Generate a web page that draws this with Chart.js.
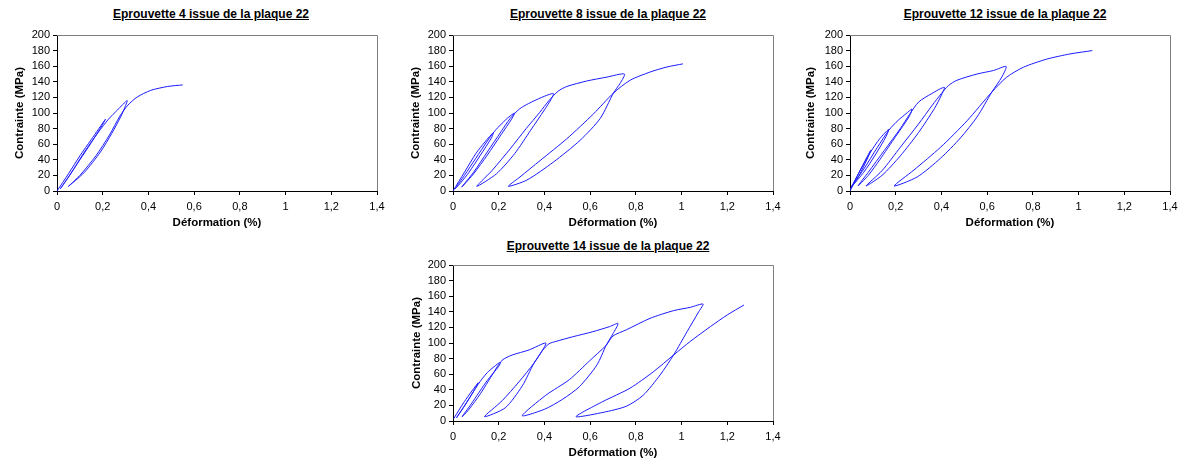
<!DOCTYPE html>
<html>
<head>
<meta charset="utf-8">
<script src="https://cdn.jsdelivr.net/npm/chart.js@4"></script>
<style>
  body { margin: 0; background: #fff; width: 1183px; height: 463px; position: relative; overflow: hidden; }
  canvas { position: absolute; }
  .title { position: absolute; font: bold 12px "Liberation Sans", Arial, sans-serif; text-decoration: underline; color: #000; white-space: nowrap; transform: translateX(-50%); }
</style>
</head>
<body>
<div class="title" style="left:211px; top:7px">Eprouvette 4 issue de la plaque 22</div>
<div class="title" style="left:608px; top:7px">Eprouvette 8 issue de la plaque 22</div>
<div class="title" style="left:1005px; top:7px">Eprouvette 12 issue de la plaque 22</div>
<div class="title" style="left:608px; top:239px">Eprouvette 14 issue de la plaque 22</div>

<canvas id="c4" width="395" height="210" style="left:0px; top:25px"></canvas>
<canvas id="c8" width="395" height="210" style="left:395px; top:25px"></canvas>
<canvas id="c12" width="393" height="210" style="left:790px; top:25px"></canvas>
<canvas id="c14" width="395" height="208" style="left:395px; top:255px"></canvas>

<script>
// tick labels (French decimal comma)
const xTickLabels = ['0', '0,2', '0,4', '0,6', '0,8', '1', '1,2', '1,4'];
const yTickLabels = ['0', '20', '40', '60', '80', '100', '120', '140', '160', '180', '200'];

// Eprouvette 4 : strain (%) / stress (MPa)
const strain4 = [0, 0.05, 0.1, 0.15, 0.212,
    0.197, 0.15, 0.1, 0.05, 0.015,
    0.06, 0.12, 0.18, 0.225, 0.265, 0.307,
    0.298, 0.28, 0.24, 0.19, 0.12, 0.05,
    0.1, 0.17, 0.23, 0.275, 0.31, 0.351, 0.41, 0.484, 0.55];
const stress4 = [0, 22, 45, 66, 92,
    84, 62, 40, 18, 3,
    22, 50, 75, 92, 104, 116,
    108, 96, 74, 50, 24, 6,
    20, 45, 72, 96, 110, 120.5, 129, 134, 136];

// Eprouvette 8
const strain8 = [0, 0.05, 0.1, 0.14, 0.177,
    0.168, 0.12, 0.07, 0.035, 0.01,
    0.05, 0.1, 0.15, 0.18, 0.215, 0.245, 0.269,
    0.258, 0.21, 0.15, 0.09, 0.038,
    0.09, 0.15, 0.21, 0.25, 0.29, 0.33, 0.388, 0.439,
    0.428, 0.4, 0.34, 0.27, 0.19, 0.104,
    0.17, 0.25, 0.32, 0.38, 0.42, 0.46, 0.498, 0.585, 0.673, 0.75,
    0.731, 0.702, 0.644, 0.556, 0.439, 0.323, 0.242,
    0.293, 0.381, 0.498, 0.615, 0.702, 0.775, 0.863, 0.936, 1.006];
const stress8 = [0, 24, 48, 63, 75,
    68, 46, 24, 11, 3,
    20, 42, 64, 76, 87, 95, 100,
    93, 72, 46, 22, 5,
    24, 50, 76, 93, 105, 112, 120, 125,
    117, 104, 78, 48, 22, 6,
    26, 54, 80, 101, 116, 128, 134, 141, 146, 150,
    138, 125.6, 93, 65, 37, 14, 6,
    18, 39, 67, 99, 125.6, 142, 152.6, 159, 163];

// Eprouvette 12
const strain12 = [0, 0.04, 0.09,
    0.08, 0.04, 0.003,
    0.04, 0.09, 0.13, 0.169,
    0.158, 0.11, 0.06, 0.005,
    0.06, 0.12, 0.17, 0.212, 0.245, 0.271,
    0.26, 0.2, 0.13, 0.08, 0.035,
    0.08, 0.15, 0.22, 0.26, 0.3, 0.358, 0.413,
    0.4, 0.37, 0.3, 0.22, 0.14, 0.07,
    0.14, 0.22, 0.3, 0.36, 0.4, 0.43, 0.468, 0.556, 0.628, 0.683,
    0.664, 0.621, 0.556, 0.483, 0.396, 0.294, 0.193,
    0.28, 0.396, 0.512, 0.621, 0.686, 0.759, 0.86, 0.962, 1.06];
const stress12 = [0, 24, 52,
    44, 20, 3,
    24, 50, 67, 79,
    70, 46, 24, 5,
    28, 56, 78, 91, 99, 105,
    96, 70, 40, 20, 6.5,
    24, 52, 80, 98, 114, 125, 133,
    123, 106, 75, 45, 20, 6.5,
    26, 56, 86, 110, 125, 135, 142, 150, 154.5, 159.6,
    146, 127, 95, 68, 42, 18, 6.4,
    27, 56, 90, 127, 146, 158.7, 169, 175.7, 180];

// Eprouvette 14
const strain14 = [0.003, 0.05, 0.11,
    0.09, 0.05, 0.015,
    0.06, 0.11, 0.15, 0.204,
    0.19, 0.12, 0.07, 0.04,
    0.08, 0.15, 0.2, 0.215, 0.259, 0.332, 0.406,
    0.384, 0.354, 0.303, 0.229, 0.138,
    0.215, 0.288, 0.354, 0.39, 0.42, 0.45, 0.524, 0.612, 0.685, 0.722,
    0.70, 0.67, 0.63, 0.553, 0.48, 0.40, 0.303,
    0.406, 0.509, 0.597, 0.67, 0.70, 0.759, 0.862, 0.965, 1.038, 1.094,
    1.075, 1.024, 0.965, 0.906, 0.832, 0.759, 0.656, 0.538,
    0.656, 0.774, 0.876, 0.965, 1.038, 1.126, 1.2, 1.273];
const stress14 = [3, 25, 49,
    38, 19, 4,
    24, 47, 62, 75,
    68, 35, 15, 5.5,
    22, 52, 70, 78, 84.6, 91, 100,
    87, 74, 45, 17, 5.6,
    26, 50, 74, 90, 99, 102, 108, 114.5, 121, 125,
    112, 97, 72, 44, 28, 15, 6.8,
    33, 53, 77, 97, 109, 117, 131.6, 141.5, 145.7, 150,
    140, 114.5, 84.6, 59, 33, 19, 11, 5.6,
    25, 42, 63, 84.6, 102, 121, 136, 148.7];

Chart.defaults.font.family = '"Liberation Sans", Arial, sans-serif';
Chart.defaults.font.size = 11;
Chart.defaults.color = '#000';

// grey frame on top and right of the plot area, like Excel
const plotFrame = {
    id: 'plotFrame',
    afterDraw(chart) {
        const { ctx, chartArea: a } = chart;
        ctx.save();
        ctx.strokeStyle = '#808080';
        ctx.lineWidth = 1;
        ctx.beginPath();
        ctx.moveTo(a.left, a.top + 0.5);
        ctx.lineTo(a.right + 0.5, a.top + 0.5);
        ctx.lineTo(a.right + 0.5, a.bottom);
        ctx.stroke();
        ctx.restore();
    }
};

function makeChart(id, strain, stress, yWidth, xHeight, padRight, yTitlePad, xTitlePad) {
    const pts = strain.map((x, i) => ({ x: x, y: stress[i] }));
    new Chart(document.getElementById(id), {
        type: 'scatter',
        data: {
            datasets: [{
                data: pts,
                showLine: true,
                borderColor: '#1a1aff',
                borderWidth: 1,
                pointRadius: 0,
                tension: 0.25,
                fill: false
            }]
        },
        options: {
            responsive: false,
            animation: false,
            layout: { padding: { top: 10, right: padRight, bottom: 0, left: 0 } },
            plugins: { legend: { display: false }, tooltip: { enabled: false } },
            scales: {
                x: {
                    type: 'linear',
                    min: 0, max: 1.4,
                    afterFit: s => { s.height = xHeight; },
                    ticks: { stepSize: 0.2, padding: 5, autoSkip: false, maxRotation: 0, callback: (v, i) => xTickLabels[i] },
                    grid: { drawOnChartArea: false, drawTicks: true, tickLength: 4, color: '#000' },
                    border: { display: true, color: '#000' },
                    title: { display: true, text: 'Déformation (%)', font: { weight: 'bold', size: 11.5 }, padding: { top: 0, bottom: xTitlePad } }
                },
                y: {
                    type: 'linear',
                    min: 0, max: 200,
                    afterFit: s => { s.width = yWidth; },
                    ticks: { stepSize: 20, padding: 3, autoSkip: false, callback: (v, i) => yTickLabels[i] },
                    grid: { drawOnChartArea: false, drawTicks: true, tickLength: 4, color: '#000' },
                    border: { display: true, color: '#000' },
                    title: { display: true, text: 'Contrainte (MPa)', font: { weight: 'bold', size: 11.5 }, padding: { top: yTitlePad, bottom: 0 } }
                }
            }
        },
        plugins: [plotFrame]
    });
}

makeChart('c4', strain4, stress4, 57, 44, 18, 13, 5);
makeChart('c8', strain8, stress8, 58, 44, 17, 13.5, 5);
makeChart('c12', strain12, stress12, 60, 44, 13, 14, 5);
makeChart('c14', strain14, stress14, 58, 42, 17, 15, 3);
</script>
</body>
</html>
